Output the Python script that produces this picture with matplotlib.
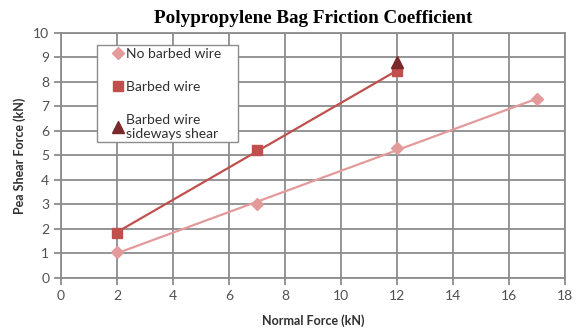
import matplotlib
matplotlib.use("Agg")
import matplotlib.pyplot as plt
from matplotlib.patches import Rectangle
import numpy as np

# Friction test results
normal_no_wire = [2, 7, 12, 17]
shear_no_wire = [1.05, 3.0, 5.3, 7.3]

normal_wire = [2, 7, 12]
shear_wire = [1.85, 5.2, 8.45]

normal_sideways = [12]
shear_sideways = [8.8]

col_no_wire = '#E39A9A'
col_wire = '#C0504D'
col_side = '#7A2A2A'

plt.rcParams['font.family'] = ['Lato', 'DejaVu Sans']

fig = plt.figure(figsize=(5.78, 3.32), dpi=100)
ax = fig.add_axes([0.1055, 0.163, 0.8725, 0.738])

# linear trendlines over the measured range
for xs, ys, c in [(normal_no_wire, shear_no_wire, col_no_wire),
                  (normal_wire, shear_wire, col_wire)]:
    k, b = np.polyfit(xs, ys, 1)
    xx = np.array([min(xs), max(xs)])
    ax.plot(xx, k * xx + b, color=c, linewidth=1.6, zorder=3)

ax.plot(normal_no_wire, shear_no_wire, linestyle='none', marker='D', markersize=6,
        color=col_no_wire, label='No barbed wire', zorder=4)
ax.plot(normal_wire, shear_wire, linestyle='none', marker='s', markersize=7.5,
        color=col_wire, label='Barbed wire', zorder=4)
ax.plot(normal_sideways, shear_sideways, linestyle='none', marker='^', markersize=8,
        color=col_side, label='Barbed wire\nsideways shear', zorder=5)

ax.set_xlim(0, 18)
ax.set_ylim(0, 10)
ax.set_xticks(range(0, 19, 2))
ax.set_yticks(range(0, 11))
ax.grid(True, color='#8C8C8C', linewidth=1.3)
ax.set_axisbelow(True)
for s in ax.spines.values():
    s.set_color('#8C8C8C')
    s.set_linewidth(1.3)
ax.tick_params(colors='#8C8C8C', labelcolor='#505050', labelsize=10, length=5, width=1.3)

ax.set_title('Polypropylene Bag Friction Coefficient', family='Liberation Serif',
             fontweight='bold', fontsize=13.8, pad=7)
ax.set_xlabel('Normal Force (kN)', fontweight='bold', fontsize=9, color='#303030',
              labelpad=9)
ax.set_ylabel('Pea Shear Force (kN)', fontweight='bold', fontsize=9, color='#303030',
              labelpad=5)

# legend box drawn separately so it can be wider than its entries
ax.add_patch(Rectangle((0.0714, 0.555), 0.2795, 0.396, transform=ax.transAxes,
                       facecolor='white', edgecolor='#8C8C8C', linewidth=1.0,
                       zorder=6))
leg = ax.legend(loc='upper left', bbox_to_anchor=(0.0714, 0.951), fontsize=10,
                frameon=False, handlelength=2.5, handletextpad=-0.65,
                labelspacing=1.5, borderpad=0.25, borderaxespad=0)
leg.set_zorder(7)
for t in leg.get_texts():
    t.set_color('#303030')

fig.savefig('out.png', dpi=100)
